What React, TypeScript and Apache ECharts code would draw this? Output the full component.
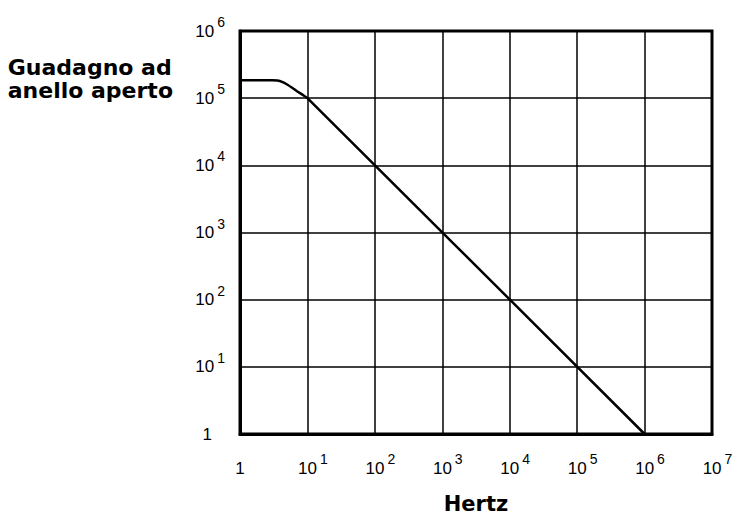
import React, { useEffect, useRef } from "react";
import * as echarts from "echarts";

const xTicks = [1, 10, 100, 1000, 10000, 100000, 1000000, 10000000];
const yTicks = [1, 10, 100, 1000, 10000, 100000, 1000000];
const freq = [1, 2, 3, 3.6, 4.2, 5, 6, 7, 8.5, 10, 1000000];
const gain = [185000, 185000, 185000, 183000, 175000, 160000, 142000, 127000, 112000, 100000, 1];

const yTitle = "Guadagno ad\nanello aperto";
const xTitle = "Hertz";

function expOf(v: number) {
  return Math.round(Math.log10(v));
}

const baseFont = "Liberation Sans";

function makeRich(isX: boolean) {
  return {
    b: { fontFamily: baseFont, fontSize: 17, color: "#000", lineHeight: 36, verticalAlign: "middle", padding: isX ? [0, 0, 0, 11] : [0, 0, 0, 0] },
    one: { fontFamily: baseFont, fontSize: 17, color: "#000", lineHeight: 36, verticalAlign: "middle", padding: isX ? [0, 0, 0, 0] : [0, 13, 0, 0] },
    s: { fontFamily: baseFont, fontSize: 14, color: "#000", lineHeight: 14, verticalAlign: "middle", padding: [0, 0, 18, 3] },
  };
}

function fmt(v: number) {
  const e = expOf(v);
  if (e === 0) return "{one|1}";
  return "{b|10}{s|" + e + "}";
}

export default function App() {
  const ref = useRef<HTMLDivElement>(null);
  useEffect(() => {
    const chart = echarts.init(ref.current!, null, { renderer: "svg" });
    chart.setOption({
      animation: false,
      backgroundColor: "#fff",
      grid: { left: 240, right: 26, top: 31, bottom: 81, show: true, borderColor: "#000", borderWidth: 3, containLabel: false, outerBoundsMode: "none" },
      xAxis: {
        type: "log",
        logBase: 10,
        min: xTicks[0],
        max: xTicks[xTicks.length - 1],
        name: xTitle,
        nameLocation: "middle",
        nameGap: 59,
        nameTextStyle: { fontFamily: "DejaVu Sans", fontWeight: "bold", fontSize: 21, color: "#000" },
        axisLine: { show: true, lineStyle: { color: "#000", width: 3 } },
        axisTick: { show: false },
        splitLine: { show: true, lineStyle: { color: "#000", width: 1.5 } },
        axisLabel: { margin: 16, formatter: fmt, rich: makeRich(true) },
      },
      yAxis: {
        type: "log",
        logBase: 10,
        min: yTicks[0],
        max: yTicks[yTicks.length - 1],
        axisLine: { show: true, lineStyle: { color: "#000", width: 3 } },
        axisTick: { show: false },
        splitLine: { show: true, lineStyle: { color: "#000", width: 1.5 } },
        axisLabel: { margin: 15, formatter: fmt, rich: makeRich(false) },
      },
      graphic: [
        {
          type: "text",
          right: 738 - 173,
          top: 56,
          style: {
            text: yTitle,
            fontFamily: "DejaVu Sans",
            fontWeight: "bold",
            fontSize: 22,
            lineHeight: 23,
            fill: "#000",
            align: "right",
          },
        },
      ],
      series: [
        {
          type: "line",
          data: freq.map((f, i) => [f, gain[i]]),
          showSymbol: false,
          smooth: 0.3,
          lineStyle: { color: "#000", width: 2.5 },
        },
      ],
    });
    return () => chart.dispose();
  }, []);
  return <div ref={ref} style={{ position: "fixed", left: 0, top: 0, width: 738, height: 515 }} />;
}
